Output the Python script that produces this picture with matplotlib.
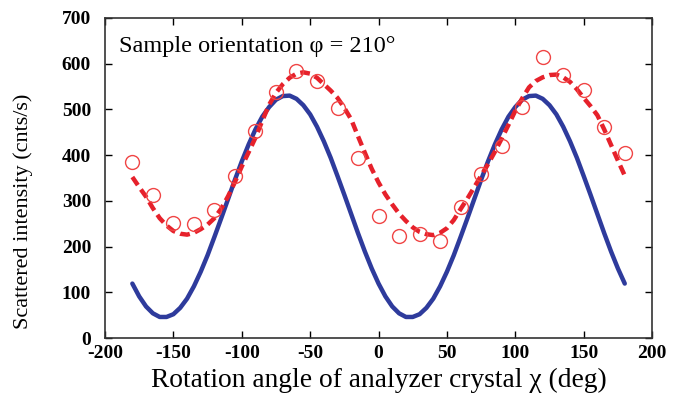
import numpy as np
import matplotlib
matplotlib.use("Agg")
import matplotlib.pyplot as plt

# measured points (open circles)
chi_pts = [-180, -165, -150, -135, -120, -105, -90, -75, -60, -45, -30, -15,
           0, 15, 30, 45, 60, 75, 90, 105, 120, 135, 150, 165, 180]
inten_pts = [385, 313, 252, 249, 280, 355, 453, 538, 584, 562, 503, 394,
             267, 223, 228, 212, 287, 359, 420, 505, 615, 575, 543, 462, 405]

# curves read every 5 deg
chi_curve = list(range(-180, 181, 5))
fit_red = [352, 330, 309, 284, 262, 246, 234, 228, 226, 230, 238, 248, 262,
           283, 310, 341, 375, 406, 438, 475, 510, 536, 555, 569, 578, 581,
           578, 569, 555, 541, 525, 503, 478, 441, 405, 370, 340, 314, 292,
           272, 256, 242, 232, 227, 225, 230, 240, 258, 282, 305, 330, 355,
           380, 407, 436, 466, 497, 524, 548, 562, 570, 575, 576, 570, 560,
           544, 525, 507, 487, 456, 422, 388, 355]
calc_blue = [119, 91, 69, 54, 46, 46, 52, 66, 86, 113, 145, 181, 221, 262,
             304, 346, 386, 423, 456, 484, 505, 521, 529, 530, 523, 509, 489,
             462, 430, 394, 354, 313, 271, 229, 189, 152, 119, 91, 69, 54, 46,
             46, 52, 66, 86, 113, 145, 181, 221, 262, 304, 346, 386, 423, 456,
             484, 505, 521, 529, 530, 523, 509, 489, 462, 430, 394, 354, 313,
             271, 229, 189, 152, 119]

serif = ["Liberation Serif", "DejaVu Serif"]
plt.rcParams["font.family"] = serif
plt.rcParams["axes.unicode_minus"] = False

fig = plt.figure(figsize=(6.93, 3.97), dpi=100)
ax = fig.add_axes([0.1515, 0.1486, 0.7895, 0.8064])

ax.plot(chi_curve, calc_blue, color="#2e3b9c", lw=3.2, solid_capstyle="round")
ax.plot(chi_curve, fit_red, color="#e6212b", lw=3.2, ls=(0, (2.2, 1.2)))
ax.plot(chi_pts, inten_pts, ls="none", marker="o", ms=10, mfc="none",
        mec="#f04545", mew=1.0)

ax.set_xlim(-200, 200)
ax.set_ylim(0, 700)
ax.set_xticks(range(-200, 201, 50))
ax.set_yticks(range(0, 701, 100))
ax.tick_params(direction="in", top=True, right=True, length=5, width=1,
               labelsize=14)
ax.tick_params(axis="y", pad=10)
ax.tick_params(axis="x", pad=5)
for lab in ax.get_xticklabels() + ax.get_yticklabels():
    lab.set_fontweight("bold")
for s in ax.spines.values():
    s.set_linewidth(1.2)
    s.set_color("#333333")

ax.set_xlabel("Rotation angle of analyzer crystal χ (deg)", fontsize=19.8, labelpad=4)
ax.set_ylabel("Scattered intensity (cnts/s)", fontsize=16)
ax.yaxis.set_label_coords(-0.132, 0.397)
ax.text(0.025, 0.91, "Sample orientation φ = 210°", transform=ax.transAxes,
        fontsize=17.5, va="center", ha="left")

fig.savefig("out.png", dpi=100)
